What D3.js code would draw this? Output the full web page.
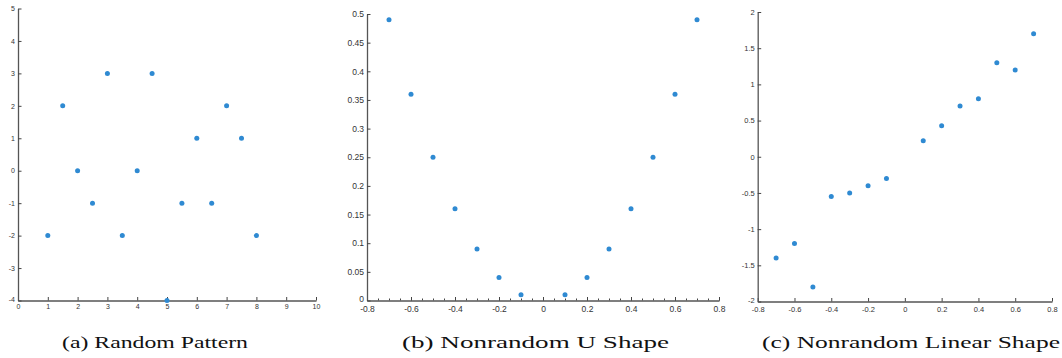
<!DOCTYPE html>
<html><head><meta charset="utf-8">
<script src="https://cdn.jsdelivr.net/npm/d3@7"></script>
<style>body{margin:0;background:#fff}svg{display:block}</style>
</head><body>
<svg id="c" width="1062" height="358"></svg>
<script>
// ---- data ----
const randX = [1, 1.5, 2, 2.5, 3, 3.5, 4, 4.5, 5, 5.5, 6, 6.5, 7, 7.5, 8];
const randY = [-2, 2, 0, -1, 3, -2, 0, 3, -4, -1, 1, -1, 2, 1, -2];
const uX = [-0.7, -0.6, -0.5, -0.4, -0.3, -0.2, -0.1, 0.1, 0.2, 0.3, 0.4, 0.5, 0.6, 0.7];
const uY = [0.49, 0.36, 0.25, 0.16, 0.09, 0.04, 0.01, 0.01, 0.04, 0.09, 0.16, 0.25, 0.36, 0.49];
const linX = [-0.7, -0.6, -0.5, -0.4, -0.3, -0.2, -0.1, 0.1, 0.2, 0.3, 0.4, 0.5, 0.6, 0.7];
const linY = [-1.4, -1.2, -1.8, -0.55, -0.5, -0.4, -0.3, 0.22, 0.43, 0.7, 0.8, 1.3, 1.2, 1.7];

const aXTicks = [0, 1, 2, 3, 4, 5, 6, 7, 8, 9, 10];
const aYTicks = [-4, -3, -2, -1, 0, 1, 2, 3, 4, 5];
const bXTicks = [-0.8, -0.6, -0.4, -0.2, 0, 0.2, 0.4, 0.6, 0.8];
const bXLabels = ["-0.8", "-0.6", "-0.4", "-0.2", "0", "0.2", "0.4", "0.6", "0.8"];
const bYTicks = [0, 0.05, 0.1, 0.15, 0.2, 0.25, 0.3, 0.35, 0.4, 0.45, 0.5];
const bYLabels = ["0", "0.05", "0.1", "0.15", "0.2", "0.25", "0.3", "0.35", "0.4", "0.45", "0.5"];
const cXTicks = bXTicks;
const cXLabels = bXLabels;
const cYTicks = [-2, -1.5, -1, -0.5, 0, 0.5, 1, 1.5, 2];
const cYLabels = ["-2", "-1.5", "-1", "-0.5", "0", "0.5", "1", "1.5", "2"];
const captions = ["(a) Random Pattern", "(b) Nonrandom U Shape", "(c) Nonrandom Linear Shape"];

// ---- drawing ----
const svg = d3.select("#c");
const dotColor = "#2f8ad2";

const panels = [
  {xs: randX, ys: randY, xd: [0, 10], yd: [-4, 5], xr: [18, 316], yr: [300.5, 8.5],
   xt: aXTicks, xl: aXTicks.map(String), yt: aYTicks, yl: aYTicks.map(String), fs: 7, minor: null, xpad: 4,
   cap: captions[0], capX: 155, capW: 186},
  {xs: uX, ys: uY, xd: [-0.8, 0.8], yd: [0, 0.5], xr: [367, 719], yr: [300.5, 14],
   xt: bXTicks, xl: bXLabels, yt: bYTicks, yl: bYLabels, fs: 8.5, minor: d3.range(-0.8, 0.8001, 0.05), xpad: 5,
   cap: captions[1], capX: 535.5, capW: 267},
  {xs: linX, ys: linY, xd: [-0.8, 0.8], yd: [-2, 2], xr: [757.7, 1052], yr: [301.5, 12],
   xt: cXTicks, xl: cXLabels, yt: cYTicks, yl: cYLabels, fs: 7.5, minor: null, xpad: 5,
   cap: captions[2], capX: 911, capW: 298}
];

panels.forEach(p => {
  const x = d3.scaleLinear().domain(p.xd).range(p.xr);
  const y = d3.scaleLinear().domain(p.yd).range(p.yr);
  const g = svg.append("g");

  if (p.minor) {
    const gm = g.append("g").attr("transform", `translate(0,${p.yr[0]})`)
      .call(d3.axisBottom(x).tickValues(p.minor).tickSize(-2).tickSizeOuter(0).tickFormat(""));
    gm.select(".domain").remove();
    gm.selectAll("line").attr("stroke", "#444");
  }

  const gx = g.append("g").attr("transform", `translate(0,${p.yr[0]})`)
    .call(d3.axisBottom(x).tickValues(p.xt).tickSize(-3.5).tickSizeOuter(0).tickPadding(p.xpad)
      .tickFormat((d, i) => p.xl[i]));
  const gy = g.append("g").attr("transform", `translate(${p.xr[0]},0)`)
    .call(d3.axisLeft(y).tickValues(p.yt).tickSize(-3.5).tickSizeOuter(0).tickPadding(3)
      .tickFormat((d, i) => p.yl[i]));
  [gx, gy].forEach(a => {
    a.select(".domain").attr("stroke", "#555").attr("stroke-width", 1.3);
    a.selectAll(".tick line").attr("stroke", "#444");
    a.selectAll("text").attr("fill", "#333").style("font-family", "'Liberation Sans', Arial, sans-serif")
      .style("font-size", p.fs + "px");
  });
  // lift the lowest y label slightly so it does not collide with the first x label
  gy.selectAll(".tick text").filter((d, i) => i === 0).attr("dy", "0.1em");

  g.append("g").selectAll("circle").data(p.xs).join("circle")
    .attr("cx", d => x(d)).attr("cy", (d, i) => y(p.ys[i]))
    .attr("r", 2.5).attr("fill", dotColor);

  svg.append("text").attr("x", p.capX).attr("y", 348).attr("text-anchor", "middle")
    .attr("textLength", p.capW).attr("lengthAdjust", "spacingAndGlyphs")
    .style("font-family", "'Liberation Serif', 'DejaVu Serif', serif").style("font-size", "17.5px")
    .attr("fill", "#111").text(p.cap);
});
</script>
</body></html>
